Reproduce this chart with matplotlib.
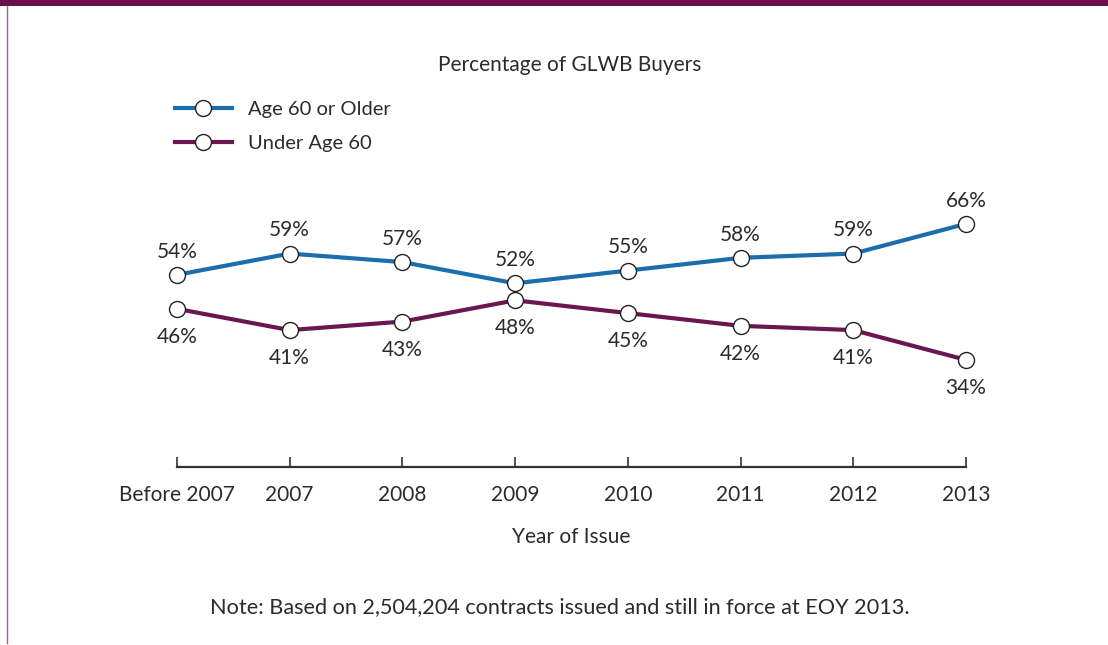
import matplotlib.pyplot as plt
from matplotlib.lines import Line2D

plt.rcParams['font.family'] = ['Lato', 'DejaVu Sans']

years = ['Before 2007', '2007', '2008', '2009', '2010', '2011', '2012', '2013']
older = [54, 59, 57, 52, 55, 58, 59, 66]
under = [46, 41, 43, 48, 45, 42, 41, 34]

azul = '#1b6dab'
morado = '#6a1650'
texto = '#2b2b2b'

fig = plt.figure(figsize=(11.08, 6.45), dpi=100)
ax = fig.add_axes([177 / 1108, 1 - 467 / 645, (966 - 177) / 1108, (467 - 200) / 645])

x = list(range(len(years)))
ax.plot(x, older, color=azul, lw=3, marker='o', ms=11.5, mfc='white',
        mec='#222222', mew=1, clip_on=False, zorder=3)
ax.plot(x, under, color=morado, lw=3, marker='o', ms=11.5, mfc='white',
        mec='#222222', mew=1, clip_on=False, zorder=3)

# etiquetas de porcentaje
for i in x:
    ax.annotate(f'{older[i]}%', (i, older[i]), xytext=(0, 9.5), textcoords='offset points',
                ha='center', va='bottom', fontsize=15, color=texto)
    ax.annotate(f'{under[i]}%', (i, under[i]), xytext=(0, -13), textcoords='offset points',
                ha='center', va='top', fontsize=15, color=texto)

ax.set_xlim(0, 7)
ax.set_ylim(8.8, 71.6)
ax.set_xticks(x)
ax.set_xticklabels(years, fontsize=15, color=texto)
ax.set_yticks([])
for s in ['top', 'right', 'left']:
    ax.spines[s].set_visible(False)
ax.spines['bottom'].set_color('#333333')
ax.spines['bottom'].set_linewidth(1.6)
ax.tick_params(axis='x', direction='in', length=7, width=1.2, color='#333333', pad=13)
ax.set_xlabel('Year of Issue', fontsize=15, color=texto, labelpad=15.5)
ax.patch.set_alpha(0)

fig.text(570 / 1108, 1 - 65 / 645, 'Percentage of GLWB Buyers', ha='center', va='center',
         fontsize=15, color=texto)
fig.text(560 / 1108, 1 - 607 / 645,
         'Note: Based on 2,504,204 contracts issued and still in force at EOY 2013.',
         ha='center', va='center', fontsize=15.6, color=texto)

handles = [
    Line2D([], [], color=azul, lw=3, marker='o', ms=11.5, mfc='white', mec='#222222', mew=1),
    Line2D([], [], color=morado, lw=3, marker='o', ms=11.5, mfc='white', mec='#222222', mew=1),
]
fig.legend(handles, ['Age 60 or Older', 'Under Age 60'], loc='upper left',
           bbox_to_anchor=(157 / 1108, 1 - 83 / 645), frameon=False, fontsize=14.5,
           handlelength=2.8, handletextpad=0.8, labelspacing=0.85, labelcolor=texto)

# barra superior y borde izquierdo
fig.add_artist(plt.Rectangle((0, 1 - 6 / 645), 1, 6 / 645, transform=fig.transFigure,
                             color='#6b0f4a', lw=0))
fig.add_artist(Line2D([7 / 1108, 7 / 1108], [0.003, 1 - 6 / 645], transform=fig.transFigure,
                      color='#a0628e', lw=1))

fig.savefig('out.png', dpi=100)
